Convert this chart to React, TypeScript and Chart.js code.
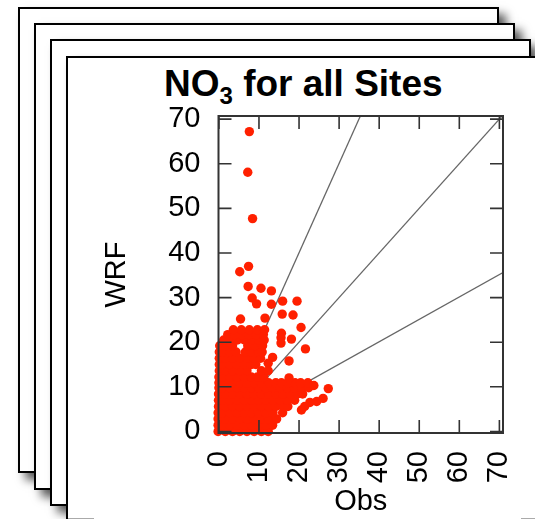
import React, { useEffect, useRef } from "react";
import { Chart, registerables } from "chart.js";

Chart.register(...registerables);

const xTicks = [0, 10, 20, 30, 40, 50, 60, 70];
const yTicks = [0, 10, 20, 30, 40, 50, 60, 70];

const titleMain = "NO";
const titleSub = "3";
const titleRest = " for all Sites";
const xTitle = "Obs";
const yTitle = "WRF";

// Isolated points: [Obs, WRF]
const outlierObs = [7.6, 7.2, 8.4, 7.4, 5.2, 7.3, 10.5, 13.1, 8.3, 9.4, 13.1, 15.9, 19.5, 15.8, 18.5, 5.4, 11.5, 20.5, 15.6, 15.5, 15.5, 18.1, 21.6, 17.5, 13.4, 12.3, 17.5, 27.3, 23.7, 26, 24.4, 22.7, 21.4, 20.6];
const outlierWrf = [67.2, 58.1, 47.7, 37, 35.8, 32.5, 32.1, 31.5, 29.9, 28.6, 28.5, 29.2, 29.2, 26.3, 26.1, 25.2, 25.4, 23.3, 22, 21, 19.8, 20.7, 18.5, 15.8, 16.6, 15.3, 12, 9.6, 10.3, 7.4, 6.7, 6.5, 5.6, 4.8];

// The dense cloud, estimated row by row: [WRF, Obs values on that row]
const cloudRows: [number, number[]][] = [
  [0, [-0.2, 1.6, 3.4, 5.2, 7, 8.8, 10.6, 12.3]],
  [1.4, [-0.2, 0.9, 2.7, 4.5, 6.3, 8.1, 9.9, 11.7, 13.4]],
  [2.8, [-0.2, 1.6, 3.4, 5.2, 7, 8.8, 10.6, 12.4, 14.4]],
  [4.2, [-0.2, 0.9, 2.7, 4.5, 6.3, 8.1, 9.9, 11.7, 13.5, 15.9]],
  [5.6, [-0.1, 1.6, 3.4, 5.2, 7, 8.8, 10.6, 12.4, 14.2, 16, 17.2]],
  [7, [-0.1, 0.9, 2.7, 4.5, 6.3, 8.1, 9.9, 11.7, 13.5, 15.3, 17.1, 18.9]],
  [8.4, [-0.1, 1.6, 3.4, 5.2, 7, 8.8, 10.6, 12.4, 14.2, 16, 17.8, 19.6, 20.9]],
  [9.8, [0, 0.9, 2.7, 4.5, 6.3, 8.1, 9.9, 11.7, 13.5, 15.3, 17.1, 18.9, 20.7, 22.4]],
  [10.9, [0, 1.6, 3.4, 5.2, 7, 8.8, 10.6, 12.4, 14.2, 15.6, 17.2, 19, 20.4, 22.2]],
  [12.2, [0, 0.9, 2.7, 4.5, 6.3, 8.1, 9.6, 11.2]],
  [13.6, [0.1, 1.6, 3.4, 5.2, 7, 10.6, 12.3]],
  [15, [0.1, 0.9, 2.7, 4.5, 6.3, 8.1, 9.2]],
  [16.4, [0.1, 1.6, 3.4, 5.2, 7, 8.8, 10.4]],
  [17.8, [0.1, 0.9, 2.7, 4.3, 6.6, 8.1, 9.9, 10.8]],
  [19.2, [0.2, 1.6, 3.4, 7.2, 9, 10.9]],
  [20.5, [1.2, 2.8, 4.6, 6.4, 8.2, 10, 11.3]],
  [21.7, [2.2, 3.9, 5.7, 7.5, 9.3, 11.1]],
  [22.8, [3.6, 5.6, 7.6, 9.6, 11.4]],
];

// Guide lines through the origin: 2:1, 1:1 and 1:2
const guideObs = [[0, 35.3], [0, 70.9], [0, 70.9]];
const guideWrf = [[0, 70.7], [0, 70.9], [0, 35.6]];

const FONT = '"Liberation Sans", Arial, sans-serif';

const insideTicks = {
  id: "insideTicks",
  afterDatasetsDraw(chart: any) {
    const { ctx, chartArea: a, scales } = chart;
    ctx.save();
    ctx.strokeStyle = "#333";
    ctx.lineWidth = 1.6;
    ctx.beginPath();
    xTicks.forEach((t) => {
      const p = scales.x.getPixelForValue(t);
      ctx.moveTo(p, a.bottom);
      ctx.lineTo(p, a.bottom - 13);
      ctx.moveTo(p, a.top);
      ctx.lineTo(p, a.top + 13);
    });
    yTicks.forEach((t) => {
      const p = scales.y.getPixelForValue(t);
      ctx.moveTo(a.left, p);
      ctx.lineTo(a.left + 13, p);
      ctx.moveTo(a.right, p);
      ctx.lineTo(a.right - 13, p);
    });
    ctx.stroke();
    ctx.lineWidth = 2;
    ctx.strokeRect(a.left, a.top, a.right - a.left, a.bottom - a.top);
    ctx.restore();
  },
};

const frames = [
  { left: 18, top: 7, width: 481, height: 466 },
  { left: 34, top: 23, width: 481, height: 467 },
  { left: 50, top: 39, width: 481, height: 467 },
  { left: 66, top: 56, width: 520, height: 520 },
];

export default function App() {
  const ref = useRef<HTMLCanvasElement>(null);

  useEffect(() => {
    if (!ref.current) return;
    const cloud = cloudRows.flatMap(([w, xs]) => xs.map((o) => ({ x: o, y: w })));
    const outliers = outlierObs.map((o, i) => ({ x: o, y: outlierWrf[i] }));
    const chart = new Chart(ref.current, {
      type: "scatter",
      data: {
        datasets: [
          {
            label: "NO3",
            data: [...cloud, ...outliers],
            backgroundColor: "#ff2000",
            borderWidth: 0,
            pointRadius: 4.7,
            clip: false,
          } as any,
          ...guideObs.map((xs, i) => ({
            type: "line",
            label: "guide " + i,
            data: xs.map((x, k) => ({ x, y: guideWrf[i][k] })),
            borderColor: "rgba(20,20,20,0.65)",
            borderWidth: 1.3,
            pointRadius: 0,
            showLine: true,
            parsing: false,
          })) as any,
        ],
      },
      options: {
        responsive: false,
        animation: false,
        layout: { padding: { left: 100, right: 32, top: 116, bottom: 0 } },
        plugins: { legend: { display: false }, title: { display: false }, tooltip: { enabled: false } },
        scales: {
          x: {
            type: "linear",
            min: -0.1,
            max: 70.9,
            afterFit: (s: any) => { s.height = 86; s.paddingLeft = 0; s.paddingRight = 0; },
            grid: { display: false, drawTicks: false },
            border: { display: false },
            ticks: {
              stepSize: 10,
              includeBounds: false,
              autoSkip: false,
              minRotation: 90,
              maxRotation: 90,
              padding: 18,
              color: "#000",
              font: { family: FONT, size: 29 },
            },
            title: {
              display: true,
              text: xTitle,
              color: "#000",
              font: { family: FONT, size: 29 },
              padding: { top: 0, bottom: 0 },
            },
          },
          y: {
            type: "linear",
            min: -0.35,
            max: 70.7,
            afterFit: (s: any) => { s.width = 118.5; s.paddingTop = 0; s.paddingBottom = 0; },
            grid: { display: false, drawTicks: false },
            border: { display: false },
            ticks: {
              stepSize: 10,
              includeBounds: false,
              autoSkip: false,
              padding: 18,
              color: "#000",
              font: { family: FONT, size: 29 },
            },
            title: {
              display: true,
              text: yTitle,
              color: "#000",
              font: { family: FONT, size: 29 },
              padding: { top: 0, bottom: 0 },
            },
          },
        },
      },
      plugins: [insideTicks],
    });
    return () => chart.destroy();
  }, []);

  return (
    <div style={{ position: "fixed", left: 0, top: 0, width: 535, height: 519, overflow: "hidden", background: "#fff" }}>
      {frames.map((f, i) => (
        <div
          key={i}
          style={{
            position: "absolute",
            boxSizing: "border-box",
            left: f.left,
            top: f.top,
            width: f.width,
            height: f.height,
            background: "#fff",
            border: "2px solid #000",
            boxShadow: "7px 7px 9px rgba(0,0,0,0.65)",
          }}
        />
      ))}
      <div style={{ position: "absolute", left: 68, top: 518, width: 26, height: 1, background: "#aaa" }} />
      <div style={{ position: "absolute", left: 521, top: 518, width: 14, height: 1, background: "#aaa" }} />
      <div
        style={{
          position: "absolute",
          left: 164,
          top: 64,
          whiteSpace: "pre",
          fontFamily: FONT,
          fontWeight: "bold",
          fontSize: 37,
          lineHeight: "40px",
          color: "#000",
        }}
      >
        {titleMain}
        <sub style={{ fontSize: 24, lineHeight: 0 }}>{titleSub}</sub>
        {titleRest}
      </div>
      <canvas ref={ref} width={535} height={519} style={{ position: "absolute", left: 0, top: 0, display: "block" }} />
    </div>
  );
}
